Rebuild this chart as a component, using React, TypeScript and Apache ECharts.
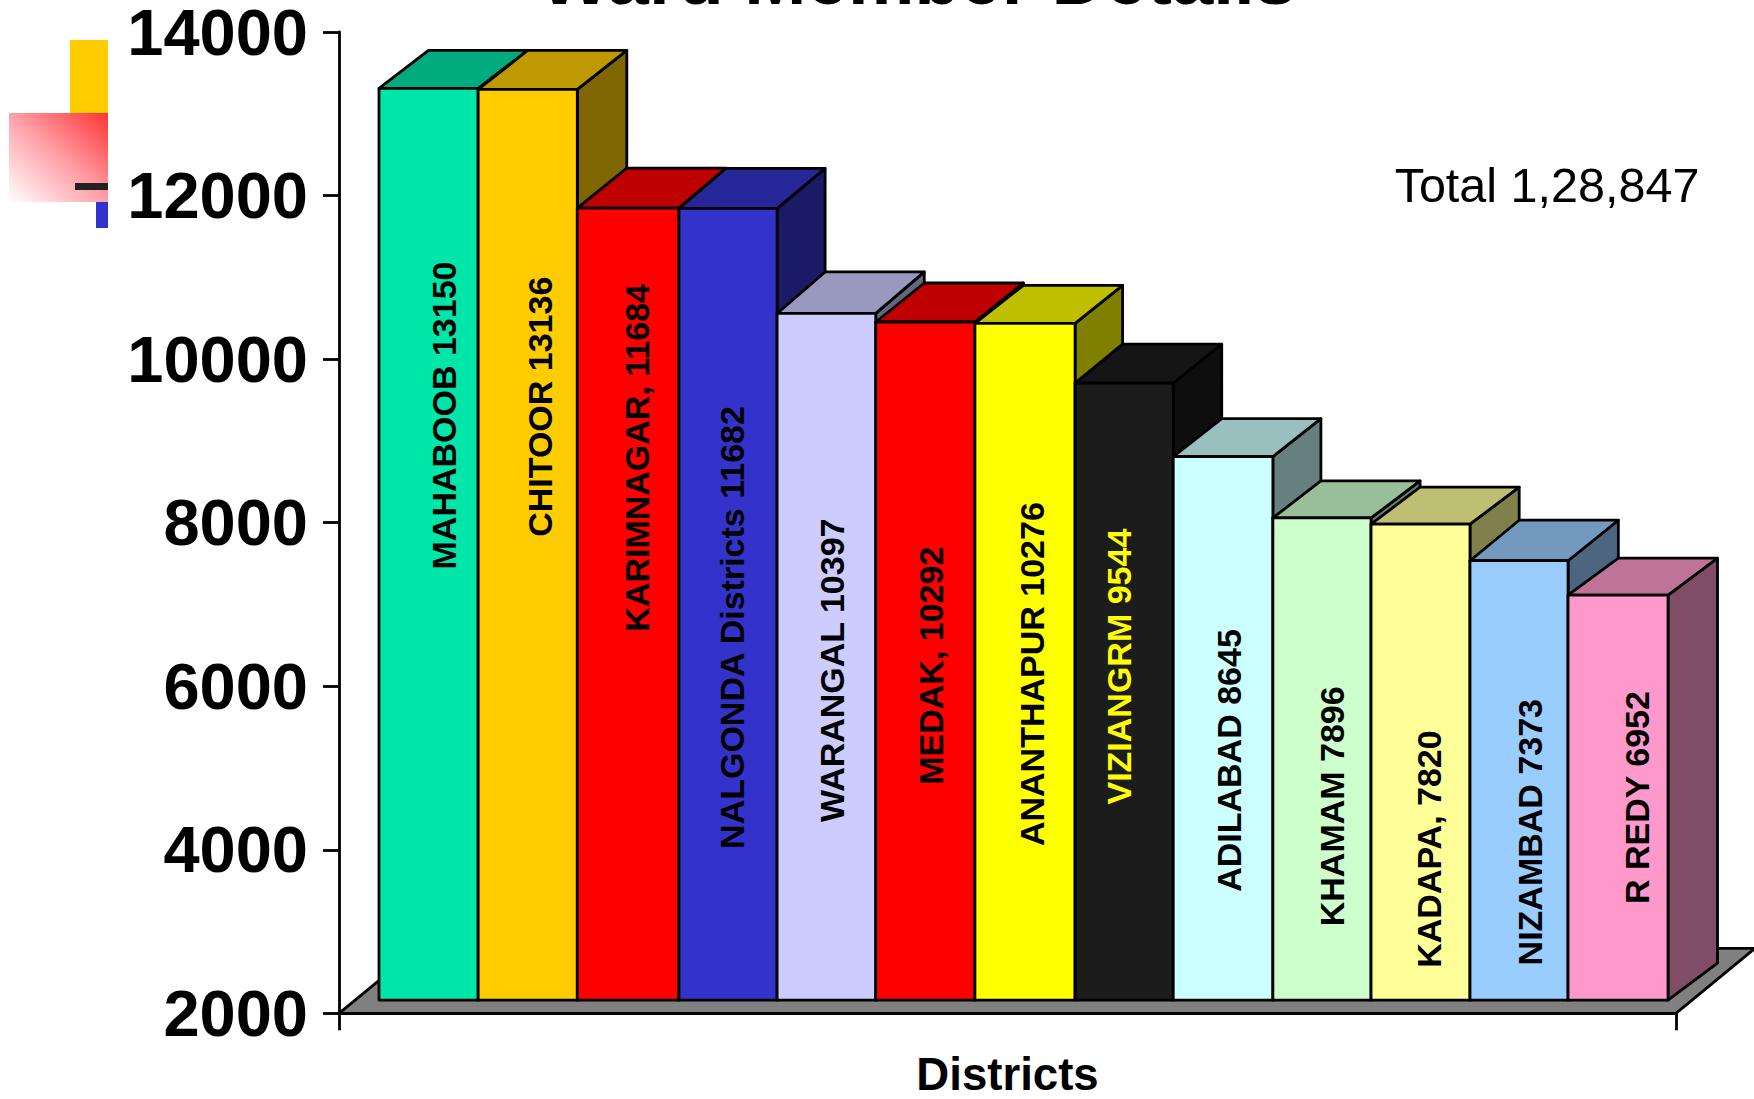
import React, { useEffect, useRef } from "react";
import * as echarts from "echarts";

const districts = ["MAHABOOB", "CHITOOR", "KARIMNAGAR,", "NALGONDA Districts", "WARANGAL", "MEDAK,", "ANANTHAPUR", "VIZIANGRM", "ADILABAD", "KHAMAM", "KADAPA,", "NIZAMBAD", "R REDY"];
const members = [13150, 13136, 11684, 11682, 10397, 10292, 10276, 9544, 8645, 7896, 7820, 7373, 6952];
const faceColors = ["#00E5A8", "#FFCC00", "#FF0000", "#3333CC", "#CCCCFF", "#FF0000", "#FFFF00", "#1C1C1C", "#CCFFFF", "#CCFFCC", "#FFFF99", "#99CCFF", "#FF99CC"];
const labelColors = ["#000", "#000", "#000", "#000", "#000", "#000", "#000", "#FFFF00", "#000", "#000", "#000", "#000", "#000"];
// Where each rotated label is centred along the value axis.
const labelMidValues = [9149, 9256, 8631, 6556, 6033, 6089, 5986, 6078, 4930, 4370, 3847, 4053, 4477];
const labelNudgeX = [15, 12, 10, 6, 7, 7, 8, -4, 7, 11, 9, 11, 19];
// Small pixel corrections to each bar's front left edge (14 edges, last is the right end).
const edgeNudge = [0, 0, 0, 2.5, 1.5, 1, 1, 2, 1, 1.5, 0.5, 0.3, -0.8, 0];
// Extra depth of each bar's top face, in pixels.
const depthNudge = [1, 2, 3, 3, 4.5, 2, 1, 2, 1, 0, 0, 3.5, 0];
const yTicks = { min: 2000, max: 14000, step: 2000 };

const DEPTH_X = 49.5;
const DEPTH_Y = 37;
const LINE = 2.8;

function shade(hex: string, f: number) {
  const n = parseInt(hex.slice(1), 16);
  const c = [(n >> 16) & 255, (n >> 8) & 255, n & 255].map((v) => Math.round(v * f));
  return `rgb(${c[0]},${c[1]},${c[2]})`;
}

function renderFloor(params: any) {
  const s = params.coordSys;
  const y = s.y + s.height;
  const dx = 79;
  const dy = 65;
  return {
    type: "polygon",
    shape: { points: [[s.x, y], [s.x + s.width, y], [s.x + s.width + dx, y - dy], [s.x + dx, y - dy]] },
    style: { fill: "#808080", stroke: "#000", lineWidth: LINE },
  };
}

function renderBar(params: any, api: any) {
  const i = params.dataIndex;
  const top = api.coord([i, api.value(1)]);
  const base = api.coord([i, yTicks.min]);
  const mid = api.coord([i, labelMidValues[i]]);
  const w0 = api.size([1, 0])[0];
  const l0 = top[0] - w0 / 2;
  const r0 = top[0] + w0 / 2;
  const l = l0 + edgeNudge[i];
  const r = r0 + edgeNudge[i + 1];
  const w = r - l;
  const backTop = top[1] - DEPTH_Y - depthNudge[i];
  const color = faceColors[i];
  const border = { stroke: "#000", lineWidth: LINE, lineJoin: "round" };
  return {
    type: "group",
    children: [
      {
        type: "polygon",
        shape: { points: [[r, top[1]], [r0 + DEPTH_X, backTop], [r0 + DEPTH_X, base[1] - DEPTH_Y], [r, base[1]]] },
        style: { fill: shade(color, 0.5), ...border },
      },
      {
        type: "polygon",
        shape: { points: [[l, top[1]], [l0 + DEPTH_X, backTop], [r0 + DEPTH_X, backTop], [r, top[1]]] },
        style: { fill: shade(color, 0.75), ...border },
      },
      {
        type: "rect",
        shape: { x: l, y: top[1], width: w, height: base[1] - top[1] },
        style: { fill: color, ...border },
      },
      {
        type: "text",
        x: top[0] + labelNudgeX[i],
        y: mid[1],
        rotation: Math.PI / 2,
        style: {
          text: `${districts[i]} ${members[i]}`,
          fill: labelColors[i],
          font: 'bold 34px "Liberation Sans"',
          align: "center",
          verticalAlign: "middle",
        },
      },
    ],
  };
}

export default function App() {
  const ref = useRef<HTMLDivElement>(null);
  useEffect(() => {
    const chart = echarts.init(ref.current!, undefined, { renderer: "svg" });
    chart.setOption({
      animation: false,
      backgroundColor: "#fff",
      grid: [
        { left: 339, top: 32, width: 1337, height: 981.3, outerBoundsMode: "none" },
        { left: 379, top: 18.8, width: 1289, height: 981.3, outerBoundsMode: "none" },
      ],
      xAxis: [
        {
          type: "category",
          gridIndex: 0,
          data: [""],
          name: "Districts",
          nameLocation: "middle",
          nameGap: 38,
          nameTextStyle: { fontFamily: "Liberation Sans", fontWeight: "bold", fontSize: 45.6, color: "#000" },
          axisLine: { lineStyle: { color: "#000", width: LINE } },
          axisTick: { show: true, length: 17, lineStyle: { color: "#000", width: LINE } },
          axisLabel: { show: false },
        },
        { type: "category", gridIndex: 1, data: districts, show: false },
      ],
      yAxis: [
        {
          type: "value",
          gridIndex: 0,
          min: yTicks.min,
          max: yTicks.max,
          interval: yTicks.step,
          splitLine: { show: false },
          axisLine: { show: true, lineStyle: { color: "#000", width: LINE } },
          axisTick: { show: true, length: 16, lineStyle: { color: "#000", width: LINE } },
          axisLabel: {
            margin: 31,
            color: "#000",
            fontFamily: "Liberation Sans",
            fontWeight: "bold",
            fontSize: 65,
            formatter: (v: number) => String(v),
          },
        },
        { type: "value", gridIndex: 1, min: yTicks.min, max: yTicks.max, interval: yTicks.step, show: false },
      ],
      series: [
        { type: "custom", xAxisIndex: 0, yAxisIndex: 0, z: 1, clip: false, silent: true, renderItem: renderFloor, data: [[0, yTicks.min]] },
        {
          type: "custom",
          xAxisIndex: 1,
          yAxisIndex: 1,
          z: 2,
          clip: false,
          renderItem: renderBar,
          encode: { x: 0, y: 1 },
          data: members.map((v, i) => [i, v]),
        },
      ],
      graphic: [
        { type: "rect", z: 10, shape: { x: 70, y: 40, width: 38, height: 73 }, style: { fill: "#FFCC00" } },
        { type: "rect", z: 10, shape: { x: 96, y: 202, width: 12, height: 26 }, style: { fill: "#3333CC" } },
        {
          type: "rect",
          z: 11,
          shape: { x: 9, y: 113, width: 99, height: 89 },
          style: {
            fill: new echarts.graphic.LinearGradient(1, 0, 0, 1, [
              { offset: 0, color: "#FF3333" },
              { offset: 0.5, color: "#FFA0A8" },
              { offset: 1, color: "#FFFFFF" },
            ]),
          },
        },
        { type: "rect", z: 12, shape: { x: 75, y: 183, width: 33, height: 7 }, style: { fill: "#222222" } },
        {
          type: "text",
          z: 12,
          x: 918,
          y: 15,
          style: { text: "Ward Member Details", fill: "#000", font: 'bold 74.7px "Liberation Sans"', align: "center", verticalAlign: "bottom" },
        },
        {
          type: "text",
          z: 12,
          x: 1547,
          y: 185,
          style: { text: "Total 1,28,847", fill: "#000", font: '48.5px "Liberation Sans"', align: "center", verticalAlign: "middle" },
        },
      ],
    });
    return () => chart.dispose();
  }, []);
  return <div ref={ref} style={{ position: "absolute", left: 0, top: 0, width: 1754, height: 1099, overflow: "hidden" }} />;
}
